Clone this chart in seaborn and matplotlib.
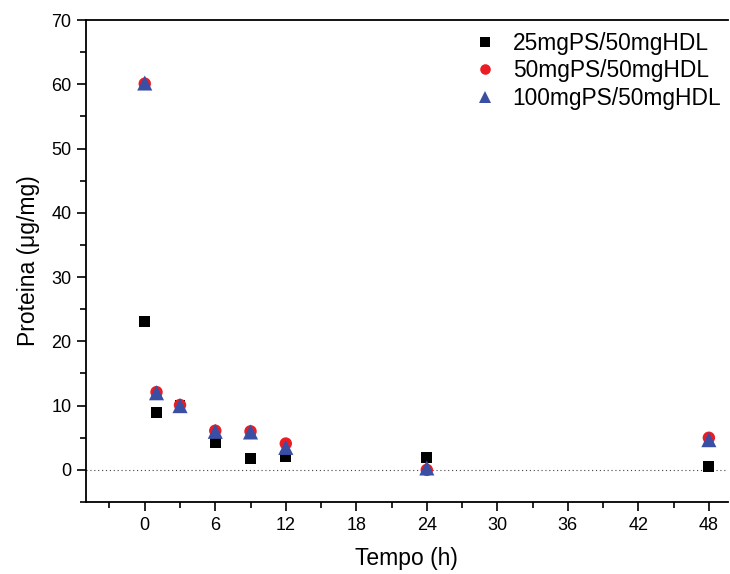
import matplotlib
matplotlib.use("Agg")
import matplotlib.pyplot as plt
from matplotlib.ticker import MultipleLocator
import pandas as pd
import seaborn as sns

# hours
tempo = [0, 1, 3, 6, 9, 12, 24, 48]

# protein (ug/mg) per PS:HDL ratio
prot_25 = [23.1, 8.9, 10.0, 4.2, 1.7, 2.1, 2.0, 0.6]
prot_50 = [60.1, 12.1, 10.1, 6.1, 6.0, 4.1, 0.0, 5.0]
prot_100 = [60.2, 12.0, 10.0, 6.0, 5.9, 3.5, 0.3, 4.7]

series = ["25mgPS/50mgHDL", "50mgPS/50mgHDL", "100mgPS/50mgHDL"]

df = pd.concat(
    [
        pd.DataFrame({"tempo": tempo, "proteina": vals, "series": name})
        for name, vals in zip(series, [prot_25, prot_50, prot_100])
    ],
    ignore_index=True,
)

sns.set_style("ticks")
plt.rcParams["font.family"] = ["Liberation Sans", "DejaVu Sans"]
plt.rcParams["text.color"] = "black"
plt.rcParams["axes.labelcolor"] = "black"
plt.rcParams["xtick.color"] = "black"
plt.rcParams["ytick.color"] = "black"

fig = plt.figure(figsize=(7.3, 5.74), dpi=100)
ax = fig.add_axes([0.1178, 0.1254, 0.879, 0.8397])

colors = {series[0]: "black", series[1]: "#ec1c24", series[2]: "#3a4fa3"}
markers = {series[0]: "s", series[1]: "o", series[2]: "^"}
sizes = {series[0]: 62, series[1]: 80, series[2]: 118}

ax.axhline(0, color="#444444", linestyle=(0, (1, 2.5)), linewidth=0.8, zorder=1)

sns.scatterplot(
    data=df,
    x="tempo",
    y="proteina",
    hue="series",
    style="series",
    size="series",
    palette=colors,
    markers=markers,
    sizes=sizes,
    edgecolor="none",
    linewidth=0,
    ax=ax,
    zorder=3,
)

ax.set_xlim(-5, 49.6)
ax.set_ylim(-5, 70)
ax.xaxis.set_major_locator(MultipleLocator(6))
ax.xaxis.set_minor_locator(MultipleLocator(3))
ax.yaxis.set_major_locator(MultipleLocator(10))
ax.yaxis.set_minor_locator(MultipleLocator(5))
ax.tick_params(which="major", direction="out", length=6.5, width=1.2, labelsize=13,
               color="black", labelcolor="black", pad=4)
ax.tick_params(which="minor", direction="out", length=4.2, width=1.2, color="black")

for side in ["left", "bottom", "top"]:
    ax.spines[side].set_visible(True)
    ax.spines[side].set_linewidth(1.3)
    ax.spines[side].set_color("black")
ax.spines["right"].set_visible(False)

ax.set_xlabel("Tempo (h)", fontsize=16.5, labelpad=10, color="black")
ax.set_ylabel("Proteina (μg/mg)", fontsize=16.5, labelpad=8, color="black")

leg = ax.legend(
    loc="upper right",
    bbox_to_anchor=(1.022, 1.017),
    frameon=False,
    fontsize=16.4,
    handletextpad=0.2,
    labelspacing=0.18,
    markerscale=0.85,
)
leg.set_title(None)
for t in leg.get_texts():
    t.set_color("black")

fig.savefig("out.png", dpi=100)
